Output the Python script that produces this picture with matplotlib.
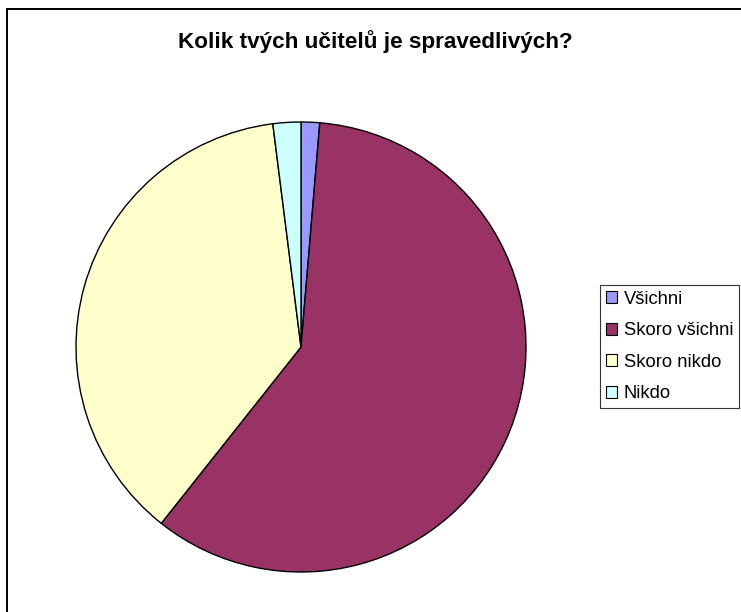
import matplotlib
matplotlib.use("Agg")
import matplotlib.pyplot as plt
from matplotlib.patches import Rectangle, Patch

# survey answers (counts)
labels = ['Všichni', 'Skoro všichni', 'Skoro nikdo', 'Nikdo']
counts = [2, 89, 56, 3]
colors = ['#9999FF', '#993366', '#FFFFCC', '#CCFFFF']
title = 'Kolik tvých učitelů je spravedlivých?'

plt.rcParams['font.family'] = ['Liberation Sans', 'DejaVu Sans']

W, H = 741, 612
fig = plt.figure(figsize=(W/100, H/100), dpi=100)

# chart area border (runs off the right and bottom edges)
fig.patches.append(Rectangle((7/W, -0.1), 1.2, (H - 9)/H + 0.1,
                             transform=fig.transFigure, fill=False,
                             edgecolor='black', linewidth=1.4))

ax = fig.add_axes([76/W, (H - 572)/H, 450/W, 450/H])
ax.pie(counts, colors=colors, startangle=90, counterclock=False,
       wedgeprops=dict(edgecolor='black', linewidth=1.0))
ax.set_xlim(-1, 1)
ax.set_ylim(-1, 1)
ax.set_aspect('equal')
ax.axis('off')

fig.text(375/W, 1 - 42/H, title, ha='center', va='center',
         fontsize=16.2, fontweight='bold')

handles = [Patch(facecolor=c, edgecolor='black', linewidth=0.8) for c in colors]
leg = fig.legend(handles, labels, loc='upper left',
                 bbox_to_anchor=(600/W, 1 - 285/H),
                 fancybox=False, frameon=True, fontsize=13.2,
                 handlelength=0.62, handleheight=0.62, handletextpad=0.38,
                 labelspacing=0.8, borderpad=0.3, borderaxespad=0)
leg.get_frame().set_edgecolor('black')
leg.get_frame().set_linewidth(0.8)

fig.savefig('out.png', dpi=100)
